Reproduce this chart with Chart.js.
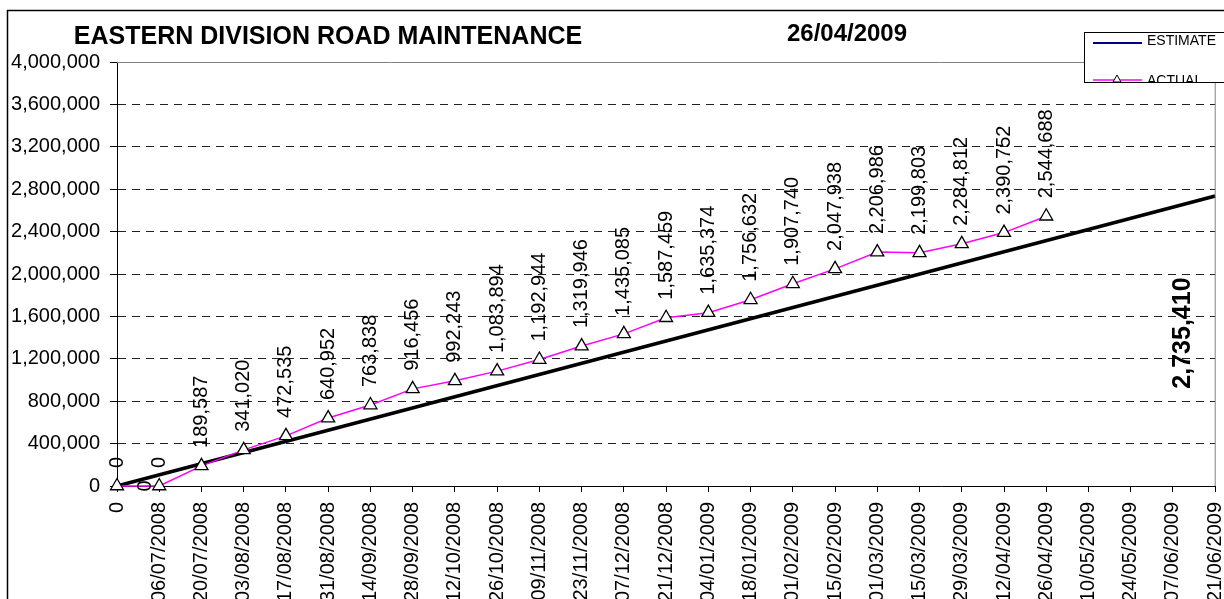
<!DOCTYPE html>
<html><head><meta charset="utf-8">
<script src="https://cdn.jsdelivr.net/npm/chart.js@4"></script>
<style>html,body{margin:0;padding:0;background:#fff;overflow:hidden;} canvas{display:block;}</style>
</head><body>
<canvas id="c" width="1224" height="599"></canvas>
<script>
const chartTitle = "EASTERN DIVISION ROAD MAINTENANCE";
const chartDate = "26/04/2009";
const categories = ["0","06/07/2008","20/07/2008","03/08/2008","17/08/2008","31/08/2008","14/09/2008","28/09/2008","12/10/2008","26/10/2008","09/11/2008","23/11/2008","07/12/2008","21/12/2008","04/01/2009","18/01/2009","01/02/2009","15/02/2009","01/03/2009","15/03/2009","29/03/2009","12/04/2009","26/04/2009","10/05/2009","24/05/2009","07/06/2009","21/06/2009"];
const estimateValues = [0,null,null,null,null,null,null,null,null,null,null,null,null,null,null,null,null,null,null,null,null,null,null,null,null,null,2735410];
const actualValues = [0,0,189587,341020,472535,640952,763838,916456,992243,1083894,1192944,1319946,1435085,1587459,1635374,1756632,1907740,2047938,2206986,2199803,2284812,2390752,2544688,null,null,null,null];
const yTickValues = [0,400000,800000,1200000,1600000,2000000,2400000,2800000,3200000,3600000,4000000];
const seriesNames = ["ESTIMATE","ACTUAL"];

const FONT = "'Liberation Sans', Arial, sans-serif";
Chart.defaults.font.family = FONT;
Chart.defaults.color = '#000';
const fmt = v => Number(v).toLocaleString('en-US');

const decorPlugin = {
  id: 'decor',
  beforeDraw(chart) {
    const ctx = chart.ctx;
    ctx.save();
    ctx.fillStyle = '#fff';
    ctx.fillRect(0, 0, chart.width, chart.height);
    ctx.restore();
  },
  afterDraw(chart) {
    const ctx = chart.ctx;
    const ca = chart.chartArea;
    ctx.save();
    // plot area border (top/right)
    ctx.strokeStyle = '#808080';
    ctx.lineWidth = 1;
    ctx.beginPath();
    ctx.moveTo(ca.left, Math.round(ca.top) + 0.5);
    ctx.lineTo(ca.right, Math.round(ca.top) + 0.5);
    ctx.lineTo(ca.right, ca.bottom);
    ctx.stroke();

    // data labels for ACTUAL
    const actMeta = chart.getDatasetMeta(0);
    ctx.fillStyle = '#000';
    ctx.font = '20px ' + FONT;
    ctx.textAlign = 'left';
    ctx.textBaseline = 'middle';
    actMeta.data.forEach((pt, i) => {
      const v = actualValues[i];
      if (v === null || v === undefined) return;
      ctx.save();
      ctx.translate(pt.x, pt.y - 18);
      ctx.rotate(-Math.PI / 2);
      ctx.fillText(fmt(v), 0, 0);
      ctx.restore();
    });
    // labels for ESTIMATE
    const estMeta = chart.getDatasetMeta(1);
    estMeta.data.forEach((pt, i) => {
      const v = estimateValues[i];
      if (v === null || v === undefined) return;
      ctx.save();
      if (i === 0) {
        ctx.font = '20px ' + FONT;
        ctx.translate(pt.x + 28, pt.y);
      } else {
        ctx.font = 'bold 25px ' + FONT;
        ctx.translate(pt.x - 32, pt.y + 137);
      }
      ctx.rotate(-Math.PI / 2);
      ctx.textAlign = 'center';
      ctx.textBaseline = 'middle';
      ctx.fillText(fmt(v), 0, 0);
      ctx.restore();
    });

    // titles
    ctx.fillStyle = '#000';
    ctx.textAlign = 'center';
    ctx.textBaseline = 'middle';
    ctx.font = 'bold 25px ' + FONT;
    ctx.fillText(chartTitle, 328, 37);
    ctx.font = 'bold 24px ' + FONT;
    ctx.fillText(chartDate, 847, 34);

    // outer border
    ctx.strokeStyle = '#000';
    ctx.lineWidth = 1.5;
    ctx.strokeRect(7.5, 10.5, 1240, 620);

    // legend
    const lx = 1084, ly = 32, lw = 150, lh = 50;
    ctx.fillStyle = '#fff';
    ctx.fillRect(lx, ly, lw, lh);
    ctx.save();
    ctx.beginPath();
    ctx.rect(lx, ly, lw, lh);
    ctx.clip();
    ctx.strokeStyle = '#000080';
    ctx.lineWidth = 2;
    ctx.beginPath();
    ctx.moveTo(lx + 9, 43); ctx.lineTo(lx + 58, 43); ctx.stroke();
    ctx.strokeStyle = '#ff00ff';
    ctx.lineWidth = 1.5;
    ctx.beginPath();
    ctx.moveTo(lx + 9, 80); ctx.lineTo(lx + 58, 80); ctx.stroke();
    ctx.strokeStyle = '#000';
    ctx.lineWidth = 1;
    ctx.beginPath();
    ctx.moveTo(lx + 33, 75); ctx.lineTo(lx + 37, 82); ctx.lineTo(lx + 29, 82); ctx.closePath();
    ctx.fillStyle = '#fff'; ctx.fill(); ctx.stroke();
    ctx.fillStyle = '#000';
    ctx.font = '14px ' + FONT;
    ctx.textAlign = 'left';
    ctx.textBaseline = 'middle';
    ctx.fillText(seriesNames[0], lx + 63, 41);
    ctx.fillText(seriesNames[1], lx + 63, 81);
    ctx.restore();
    ctx.strokeStyle = '#000';
    ctx.lineWidth = 1;
    ctx.strokeRect(lx + 0.5, ly + 0.5, lw, lh);
    ctx.restore();
  }
};

new Chart(document.getElementById('c'), {
  type: 'line',
  data: {
    labels: categories,
    datasets: [
      {
        label: seriesNames[1],
        data: actualValues,
        borderColor: '#ff00ff',
        borderWidth: 1.5,
        pointStyle: 'triangle',
        pointRadius: 7.5,
        pointBorderColor: '#000',
        pointBackgroundColor: '#fff',
        pointBorderWidth: 1.3,
        tension: 0,
        clip: false,
        spanGaps: false
      },
      {
        label: seriesNames[0],
        data: estimateValues,
        borderColor: '#000',
        borderWidth: 3.5,
        pointRadius: 0,
        tension: 0,
        spanGaps: true,
        clip: false
      }
    ]
  },
  options: {
    responsive: false,
    animation: false,
    devicePixelRatio: 1,
    events: [],
    layout: { padding: { left: 0, top: 62, right: 4, bottom: 0 } },
    plugins: { legend: { display: false }, title: { display: false }, tooltip: { enabled: false } },
    scales: {
      x: {
        type: 'category',
        offset: false,
        grid: { drawOnChartArea: false, drawTicks: true, tickLength: 6, color: '#000', lineWidth: 1 },
        border: { display: true, color: '#000', width: 1 },
        ticks: { autoSkip: false, minRotation: 90, maxRotation: 90, padding: 10, font: { size: 20 }, color: '#000' },
        afterFit(s) { s.height = 113; s.paddingLeft = 0; s.paddingRight = 0; }
      },
      y: {
        min: 0, max: 4000000,
        afterBuildTicks(s) { s.ticks = yTickValues.map(v => ({ value: v })); },
        grid: {
          drawOnChartArea: true, drawTicks: true, tickLength: 7,
          color: c => (c.tick && c.tick.value === 4000000) ? 'rgba(0,0,0,0)' : '#222',
          tickColor: '#000', lineWidth: 1, tickBorderDash: []
        },
        border: { display: true, color: '#000', width: 1, dash: [8, 6] },
        ticks: { padding: 10, font: { size: 20 }, color: '#000', callback: v => fmt(v) },
        afterFit(s) { s.width = 117; s.paddingTop = 0; s.paddingBottom = 0; }
      }
    }
  },
  plugins: [decorPlugin]
});
</script>
</body></html>
